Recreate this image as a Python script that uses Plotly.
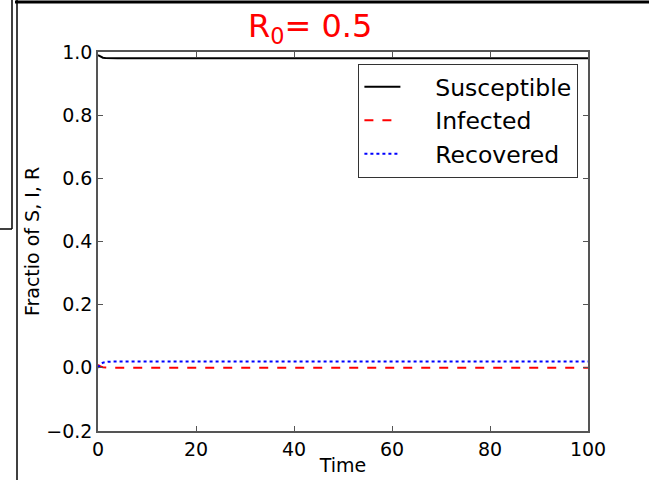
import plotly.graph_objects as go

# Data
time = [0, 0.5, 1, 1.5, 2, 3, 4, 5, 10, 20, 30, 40, 50, 60, 70, 80, 90, 100]
susceptible = [0.99, 0.985, 0.982, 0.981, 0.9805, 0.9802, 0.9801, 0.980, 0.980, 0.980, 0.980, 0.980, 0.980, 0.980, 0.980, 0.980, 0.980, 0.980]
infected = [0.01, 0.004, 0.0016, 0.0007, 0.0003, 0.0001, 0.0, 0.0, 0.0, 0.0, 0.0, 0.0, 0.0, 0.0, 0.0, 0.0, 0.0, 0.0]
recovered = [0.0, 0.011, 0.0164, 0.0183, 0.0192, 0.0197, 0.0199, 0.020, 0.020, 0.020, 0.020, 0.020, 0.020, 0.020, 0.020, 0.020, 0.020, 0.020]
series_names = ["Susceptible", "Infected", "Recovered"]

x_ticks = [0, 20, 40, 60, 80, 100]
y_ticks = [-0.2, 0.0, 0.2, 0.4, 0.6, 0.8, 1.0]
y_tick_labels = ["\u22120.2", "0.0", "0.2", "0.4", "0.6", "0.8", "1.0"]

pad = "\u00a0\u00a0\u00a0\u00a0"

fig = go.Figure()
fig.add_trace(go.Scatter(x=time, y=susceptible, mode="lines", name=pad + series_names[0],
                         line=dict(color="black", width=2)))
fig.add_trace(go.Scatter(x=time, y=infected, mode="lines", name=pad + series_names[1],
                         line=dict(color="red", width=2, dash="dash")))
fig.add_trace(go.Scatter(x=time, y=recovered, mode="lines", name=pad + series_names[2],
                         line=dict(color="blue", width=2, dash="dot")))

axis_common = dict(showgrid=False, zeroline=False, showline=True, linecolor="#555",
                   linewidth=1.5, mirror="ticks", ticks="inside", ticklen=5, automargin=False,
                   tickcolor="#555", tickfont=dict(family="DejaVu Sans", size=19, color="black"))

fig.update_xaxes(range=[0, 100], tickvals=x_ticks,
                 title=dict(text="Time", font=dict(family="DejaVu Sans", size=19, color="black"), standoff=0),
                 **axis_common)
fig.update_yaxes(range=[-0.2, 1.0], tickvals=y_ticks, ticktext=y_tick_labels,
                 title=dict(text="Fractio of S, I, R", font=dict(family="DejaVu Sans", size=19, color="black"), standoff=2),
                 **axis_common)

fig.update_layout(
    width=649, height=480,
    margin=dict(l=98, r=61, t=52, b=49),
    plot_bgcolor="white", paper_bgcolor="white",
    showlegend=True,
    legend=dict(x=0.98, y=0.969, xanchor="right", yanchor="top",
                bordercolor="#333", borderwidth=1.2, bgcolor="white",
                font=dict(family="DejaVu Sans", size=23.5, color="black"),
                itemwidth=36, tracegroupgap=0),
)

# Handwritten-style annotation
fig.add_annotation(x=0.433, y=1.063, xref="paper", yref="paper", text="R<sub>0</sub>= 0.5",
                   showarrow=False, font=dict(family="DejaVu Sans", size=32, color="red"),
                   xanchor="center", yanchor="middle")

# Screenshot frame lines
def px_x(px):
    return (px - 98) / 490.0

def px_y(py):
    return (431 - py) / 379.0

shapes = [
    dict(type="line", xref="paper", yref="paper", x0=px_x(17), x1=px_x(17), y0=px_y(0), y1=px_y(480),
         line=dict(color="black", width=1.5)),
    dict(type="line", xref="paper", yref="paper", x0=px_x(15), x1=px_x(649), y0=px_y(2), y1=px_y(2),
         line=dict(color="black", width=3)),
    dict(type="line", xref="paper", yref="paper", x0=px_x(12), x1=px_x(12), y0=px_y(0), y1=px_y(229),
         line=dict(color="black", width=1.5)),
    dict(type="line", xref="paper", yref="paper", x0=px_x(0), x1=px_x(12), y0=px_y(229), y1=px_y(229),
         line=dict(color="black", width=1.5)),
]
fig.update_layout(shapes=shapes)

fig.write_html("out.html", config={"displayModeBar": False},
               post_script="document.body.style.margin='0';document.body.style.padding='0';")
